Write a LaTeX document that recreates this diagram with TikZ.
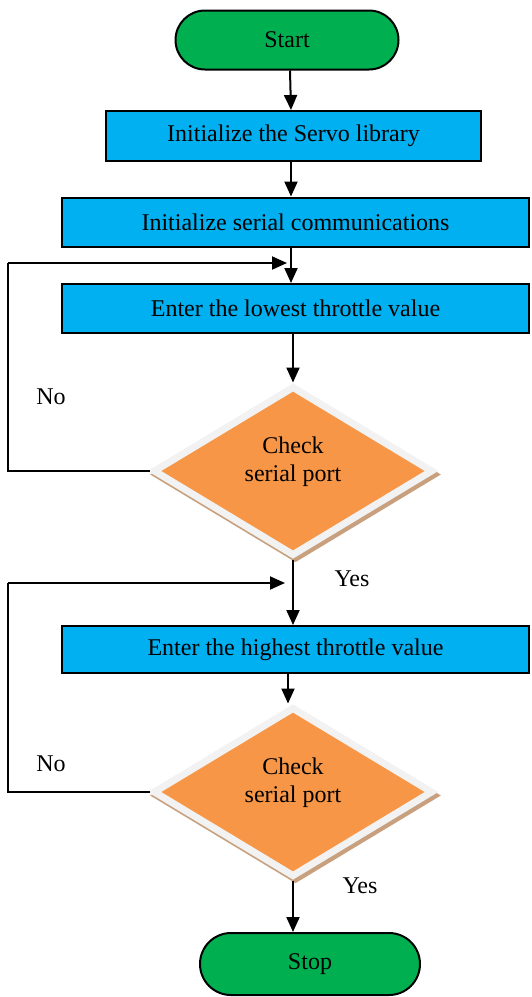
\documentclass[tikz,border=0pt]{standalone}
\usepackage{fontspec}
\setmainfont{Liberation Serif}
\usetikzlibrary{shapes.geometric,shapes.misc,arrows.meta}

\definecolor{termgreen}{RGB}{0,176,80}
\definecolor{stepblue}{RGB}{0,176,240}
\definecolor{decorange}{RGB}{247,150,70}
\definecolor{decrim}{RGB}{242,242,242}
\definecolor{decshade}{RGB}{200,160,125}

\begin{document}
\begin{tikzpicture}[x=1pt,y=-1pt,
  every node/.style={font=\fontsize{24}{28}\selectfont, inner sep=0pt, align=center},
  terminal/.style={rounded rectangle, draw=black, line width=2pt, fill=termgreen},
  stepbox/.style={rectangle, draw=black, line width=2pt, fill=stepblue},
  decision/.style={diamond, fill=decorange, draw=decrim, line width=7pt,
    minimum width=280pt, minimum height=170pt,
    preaction={draw=decshade, fill=decshade, line width=7pt,
      transform canvas={xshift=2.5pt, yshift=-3.5pt}}},
  arr/.style={line width=2pt, -{Triangle[length=15pt,width=13pt]}},
  ln/.style={line width=2pt}]

\useasboundingbox (0,0) rectangle (531,997);

% process nodes
\node[terminal, minimum width=223pt, minimum height=59pt] (start) at (287,40) {Start};
\node[stepbox, minimum width=375pt, minimum height=50pt] (init) at (293.5,136) {Initialize the Servo library};
\node[stepbox, minimum width=467pt, minimum height=49pt] (serial) at (295.5,222) {Initialize serial communications};
\node[stepbox, minimum width=467pt, minimum height=49pt] (low) at (295.5,308.5) {Enter the lowest throttle value};
\node[decision] (chk1) at (293,471) {};
\node (txt1) at (293,462) {Check\\serial port};
\node[stepbox, minimum width=467pt, minimum height=47pt] (high) at (295.5,649.5) {Enter the highest throttle value};
\node[decision] (chk2) at (293,792) {};
\node (txt2) at (293,783) {Check\\serial port};
\node[terminal, minimum width=220pt, minimum height=62pt] (stop) at (310,964) {Stop};

% loop corners
\coordinate (back1) at (8,263);
\coordinate (back2) at (8,583);

% main flow
\draw[arr] (start.south -| 290,0) -- (init.north -| 291,0);
\draw[arr] (init.south -| 291,0) -- (serial.north -| 291,0);
\draw[arr] (serial.south -| 291,0) -- (low.north -| 291,0);
\draw[arr] (low.south -| chk1.north) -- (chk1.north);
\draw[arr] (chk1.south) -- (high.north -| chk1.south);
\draw[arr] (high.south -| 288,0) -- (chk2.north -| 288,0);
\draw[arr] (chk2.south) -- (stop.north -| chk2.south);

% retry loops
\draw[ln] (chk1.west) -- (back1 |- chk1.west) -- (back1);
\draw[arr] (back1) -- (287,263);
\draw[ln] (chk2.west) -- (back2 |- chk2.west) -- (back2);
\draw[arr] (back2) -- (285,583);

% branch labels
\node (no1) at (51,397) {No};
\node (yes1) at (352,579) {Yes};
\node (no2) at (51,764) {No};
\node (yes2) at (360,886) {Yes};
\end{tikzpicture}
\end{document}
